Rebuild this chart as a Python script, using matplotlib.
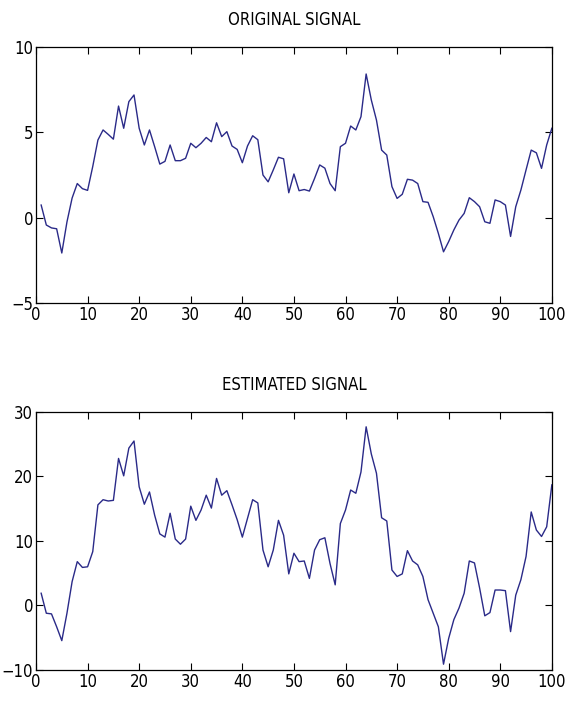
import numpy as np
import matplotlib
matplotlib.use("Agg")
import matplotlib.pyplot as plt

# sample index 1..100
n = np.arange(1, 101)

original = [0.74, -0.43, -0.6, -0.65, -2.07, -0.25, 1.15, 2.0, 1.7, 1.6,
            3.0, 4.55, 5.14, 4.88, 4.6, 6.54, 5.24, 6.8, 7.19, 5.24,
            4.26, 5.14, 4.16, 3.14, 3.3, 4.26, 3.34, 3.34, 3.48, 4.36,
            4.1, 4.36, 4.7, 4.45, 5.56, 4.75, 5.04, 4.2, 4.0, 3.22,
            4.2, 4.8, 4.57, 2.5, 2.1, 2.8, 3.54, 3.45, 1.46, 2.56,
            1.58, 1.65, 1.56, 2.3, 3.09, 2.9, 2.0, 1.58, 4.16, 4.36,
            5.37, 5.14, 5.92, 8.42, 6.9, 5.72, 3.96, 3.67, 1.82, 1.13,
            1.37, 2.25, 2.2, 2.0, 0.94, 0.9, 0.06, -0.92, -2.0, -1.4,
            -0.72, -0.14, 0.25, 1.17, 0.94, 0.64, -0.24, -0.33, 1.04, 0.94,
            0.74, -1.1, 0.64, 1.62, 2.8, 3.96, 3.8, 2.89, 4.26, 5.24]

estimated = [1.9, -1.2, -1.3, -3.3, -5.45, -1.2, 3.7, 6.8, 5.9, 6.0,
             8.35, 15.6, 16.4, 16.2, 16.3, 22.8, 20.1, 24.4, 25.5, 18.4,
             15.7, 17.6, 14.0, 11.1, 10.6, 14.3, 10.3, 9.5, 10.3, 15.4,
             13.2, 14.8, 17.1, 15.1, 19.7, 17.1, 17.8, 15.6, 13.3, 10.6,
             13.5, 16.4, 15.9, 8.6, 6.0, 8.6, 13.2, 10.9, 4.9, 8.1,
             6.8, 6.9, 4.2, 8.6, 10.2, 10.5, 6.5, 3.2, 12.7, 14.8,
             17.9, 17.4, 20.7, 27.7, 23.5, 20.5, 13.6, 13.1, 5.5, 4.5,
             4.9, 8.5, 6.9, 6.3, 4.5, 0.9, -1.2, -3.3, -9.1, -5.1,
             -2.2, -0.4, 1.9, 6.9, 6.6, 2.7, -1.6, -1.1, 2.4, 2.4,
             2.3, -4.05, 1.6, 4.0, 7.6, 14.5, 11.7, 10.7, 12.2, 18.7]

xticks = range(0, 101, 10)
yticks_top = [-5, 0, 5, 10]
yticks_bottom = [-10, 0, 10, 20, 30]

plt.rcParams['font.family'] = ['DejaVu Sans']
plt.rcParams['font.stretch'] = 'condensed'
plt.rcParams['font.size'] = 12

fig = plt.figure(figsize=(5.77, 7.04), dpi=100)
ax1 = fig.add_axes([0.0624, 0.5696, 0.894, 0.3636])
ax2 = fig.add_axes([0.0624, 0.0483, 0.894, 0.3665])

for ax, y, yt, title in [(ax1, original, yticks_top, 'ORIGINAL SIGNAL'),
                         (ax2, estimated, yticks_bottom, 'ESTIMATED SIGNAL')]:
    ax.plot(n, y, color='#2a2a88', lw=1.0)
    ax.set_xlim(0, 100)
    ax.set_ylim(yt[0], yt[-1])
    ax.set_xticks(xticks)
    ax.set_yticks(yt)
    ax.tick_params(direction='in', top=True, right=True, length=5, width=0.8,
                   labelsize=12, pad=2)
    for s in ax.spines.values():
        s.set_linewidth(0.9)
    ax.set_title(title, fontsize=12, pad=16)

fig.savefig('out.png', dpi=100)
